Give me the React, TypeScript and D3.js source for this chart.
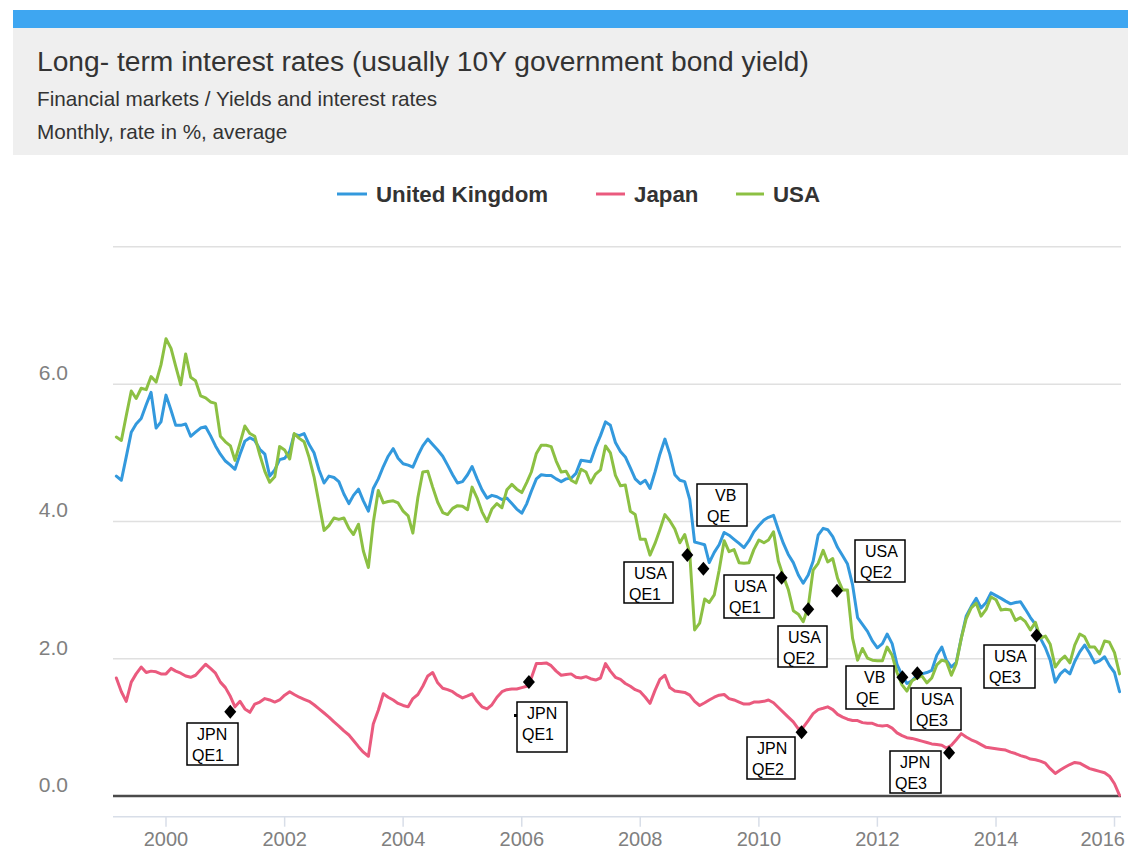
import React from "react";
import * as d3 from "d3";

// ---------- DATA ----------
// Monthly averages, first value = March 1999, last = February 2016
const FIRST_YEAR = 1999;
const FIRST_MONTH = 3;

const ukRates = [
  4.66, 4.60, 4.94, 5.30, 5.42, 5.50, 5.70, 5.88, 5.36, 5.45,
  5.84, 5.62, 5.40, 5.40, 5.42, 5.24, 5.30, 5.36, 5.38, 5.25, 5.10, 4.98,
  4.88, 4.82, 4.76, 4.98, 5.17, 5.22, 5.18, 5.05, 4.98, 4.66, 4.75, 4.90,
  4.92, 5.02, 5.27, 5.25, 5.28, 5.12, 5.00, 4.75, 4.56, 4.66, 4.64, 4.58,
  4.40, 4.26, 4.38, 4.47, 4.30, 4.15, 4.48, 4.62, 4.80, 4.95, 5.06, 4.92,
  4.84, 4.82, 4.79, 4.96, 5.10, 5.20, 5.12, 5.04, 4.95, 4.82, 4.68, 4.56,
  4.58, 4.68, 4.80, 4.62, 4.46, 4.34, 4.38, 4.36, 4.32, 4.34, 4.26, 4.18,
  4.12, 4.26, 4.44, 4.62, 4.68, 4.67, 4.67, 4.62, 4.58, 4.62, 4.63, 4.70,
  4.89, 4.88, 4.87, 5.08, 5.25, 5.45, 5.40, 5.15, 5.02, 4.94, 4.78, 4.62,
  4.55, 4.60, 4.48, 4.72, 4.98, 5.20, 4.98, 4.68, 4.60, 4.58, 4.32, 3.70,
  3.68, 3.66, 3.40, 3.55, 3.66, 3.84, 3.80, 3.74, 3.68, 3.62, 3.72, 3.85,
  3.94, 4.02, 4.06, 4.09, 3.88, 3.68, 3.52, 3.40, 3.22, 3.10, 3.22, 3.42,
  3.80, 3.90, 3.88, 3.78, 3.62, 3.50, 3.38, 3.08, 2.60, 2.50, 2.40, 2.26,
  2.16, 2.22, 2.36, 2.22, 1.92, 1.76, 1.64, 1.68, 1.76, 1.78, 1.80, 1.83,
  2.05, 2.17, 1.98, 1.88, 1.95, 2.30, 2.62, 2.76, 2.88, 2.74, 2.82, 2.96,
  2.92, 2.88, 2.84, 2.80, 2.82, 2.83, 2.72, 2.60, 2.50, 2.30, 2.16, 1.98,
  1.66, 1.78, 1.84, 1.78, 1.96, 2.10, 2.20, 2.08, 1.94, 1.97, 2.03, 1.90,
  1.80, 1.52,
];

const japanRates = [
  1.72, 1.52, 1.38, 1.66, 1.78, 1.88, 1.80, 1.82, 1.81, 1.78,
  1.78, 1.86, 1.82, 1.79, 1.75, 1.73, 1.76, 1.84, 1.92, 1.86, 1.79, 1.66,
  1.58, 1.45, 1.30, 1.38, 1.27, 1.22, 1.34, 1.37, 1.42, 1.40, 1.37, 1.40,
  1.47, 1.52, 1.48, 1.44, 1.41, 1.38, 1.33, 1.27, 1.21, 1.15, 1.08, 1.02,
  0.95, 0.89, 0.81, 0.72, 0.64, 0.58, 1.05, 1.25, 1.49, 1.44, 1.40, 1.35,
  1.32, 1.30, 1.42, 1.48, 1.60, 1.75, 1.80, 1.65, 1.57, 1.55, 1.52, 1.47,
  1.43, 1.46, 1.49, 1.38, 1.30, 1.27, 1.33, 1.44, 1.52, 1.55, 1.56, 1.56,
  1.58, 1.60, 1.72, 1.93, 1.93, 1.94, 1.90, 1.82, 1.76, 1.77, 1.78, 1.73,
  1.72, 1.74, 1.71, 1.69, 1.72, 1.93, 1.82, 1.73, 1.70, 1.64, 1.60, 1.55,
  1.52, 1.44, 1.35, 1.54, 1.70, 1.76, 1.58, 1.53, 1.52, 1.51, 1.47, 1.38,
  1.32, 1.36, 1.40, 1.44, 1.47, 1.48, 1.42, 1.40, 1.37, 1.34, 1.34, 1.37,
  1.37, 1.38, 1.40, 1.36, 1.29, 1.22, 1.15, 1.08, 0.98, 1.00, 1.10, 1.20,
  1.26, 1.28, 1.30, 1.26, 1.19, 1.15, 1.12, 1.10, 1.10, 1.07, 1.06, 1.06,
  1.03, 1.02, 1.03, 0.99, 0.92, 0.88, 0.85, 0.84, 0.82, 0.80, 0.78, 0.76,
  0.75, 0.74, 0.70, 0.74, 0.82, 0.91, 0.86, 0.82, 0.79, 0.75, 0.71, 0.70,
  0.69, 0.68, 0.67, 0.64, 0.62, 0.59, 0.57, 0.54, 0.53, 0.51, 0.48, 0.40,
  0.33, 0.38, 0.42, 0.46, 0.49, 0.48, 0.44, 0.40, 0.38, 0.36, 0.34, 0.29,
  0.18, 0.01,
];

const usaRates = [
  5.23, 5.18, 5.54, 5.90, 5.79, 5.94, 5.92, 6.11, 6.03, 6.28,
  6.66, 6.52, 6.26, 5.99, 6.44, 6.10, 6.05, 5.83, 5.80, 5.74, 5.72, 5.24,
  5.16, 5.10, 4.89, 5.14, 5.39, 5.28, 5.24, 4.97, 4.73, 4.57, 4.65, 5.09,
  5.04, 4.91, 5.28, 5.21, 5.16, 4.93, 4.65, 4.26, 3.87, 3.94, 4.05, 4.03,
  4.05, 3.90, 3.81, 3.96, 3.57, 3.33, 3.98, 4.45, 4.27, 4.29, 4.30, 4.27,
  4.15, 4.08, 3.83, 4.35, 4.72, 4.73, 4.50, 4.28, 4.13, 4.10, 4.19, 4.23,
  4.22, 4.17, 4.50, 4.34, 4.14, 4.00, 4.18, 4.26, 4.20, 4.46, 4.54, 4.47,
  4.42, 4.57, 4.72, 4.99, 5.11, 5.11, 5.09, 4.88, 4.72, 4.73, 4.60, 4.56,
  4.76, 4.72, 4.56, 4.69, 4.75, 5.10, 5.00, 4.67, 4.52, 4.53, 4.15, 4.10,
  3.74, 3.74, 3.51, 3.68, 3.88, 4.10, 4.01, 3.89, 3.69, 3.81, 3.53, 2.42,
  2.52, 2.87, 2.82, 2.93, 3.29, 3.72, 3.56, 3.59, 3.40, 3.39, 3.40, 3.59,
  3.73, 3.69, 3.73, 3.85, 3.42, 3.20, 3.01, 2.70, 2.65, 2.54, 2.76, 3.29,
  3.39, 3.58, 3.41, 3.46, 3.17, 3.00, 3.00, 2.30, 1.98, 2.15, 2.01, 1.98,
  1.97, 1.97, 2.17, 2.05, 1.80, 1.62, 1.53, 1.68, 1.72, 1.75, 1.65, 1.72,
  1.91, 1.98, 1.96, 1.76, 1.93, 2.30, 2.58, 2.74, 2.81, 2.62, 2.72, 2.90,
  2.86, 2.71, 2.72, 2.71, 2.56, 2.60, 2.54, 2.42, 2.53, 2.30, 2.33, 2.21,
  1.88, 1.98, 2.04, 1.94, 2.20, 2.36, 2.32, 2.17, 2.17, 2.07, 2.26, 2.24,
  2.09, 1.78,
];

const seriesNames = ["United Kingdom", "Japan", "USA"];
const yGridTicks = [0, 2, 4, 6, 8];
const yLabelTicks = [0, 2, 4, 6];
const xTickYears = [2000, 2002, 2004, 2006, 2008, 2010, 2012, 2014, 2016];

const titleText = "Long- term interest rates (usually 10Y government bond yield)";
const subtitleText = "Financial markets / Yields and interest rates";
const unitText = "Monthly, rate in %, average";

// QE annotations: label lines, marker date, marker value
const qeLabels = [
  ["JPN", "QE1"], ["JPN", "QE1"], ["USA", "QE1"], ["VB", "QE"],
  ["USA", "QE1"], ["USA", "QE2"], ["USA", "QE2"], ["JPN", "QE2"],
  ["VB", "QE"], ["USA", "QE3"], ["JPN", "QE3"], ["USA", "QE3"],
];
const qeDates = [
  "2001-01-31", "2006-02-14", "2008-10-17", "2009-01-24",
  "2010-05-21", "2010-11-01", "2011-04-27", "2010-09-21",
  "2012-06-03", "2012-09-03", "2013-03-18", "2014-09-08",
];
const qeValues = [1.23, 1.66, 3.51, 3.31, 3.18, 2.72, 2.99, 0.93, 1.73, 1.79, 0.63, 2.34];

// ---------- LAYOUT (pixels) ----------
const W = 1128;
const H = 852;
const PLOT_LEFT = 113;
const PLOT_RIGHT = 1121;
const qeBoxes = [
  [187, 723, 51, 42], [517, 702, 50, 50], [624, 562, 49, 41], [697, 484, 50, 42],
  [724, 575, 50, 43], [778, 626, 49, 41], [855, 540, 50, 42], [747, 737, 48, 42],
  [846, 666, 48, 43], [911, 688, 50, 42], [890, 751, 51, 42], [984, 645, 51, 43],
];
const seriesColors = ["#3399dd", "#ea5a7e", "#8cc043"];
const legendPos = [
  { x: 337, w: 30 },
  { x: 596, w: 29 },
  { x: 736, w: 28 },
];

const FONT = "'Liberation Sans', Arial, Helvetica, sans-serif";

function monthDate(i: number): Date {
  return new Date(FIRST_YEAR, FIRST_MONTH - 1 + i, 1);
}
function parseDay(s: string): Date {
  const [y, m, d] = s.split("-").map(Number);
  return new Date(y, m - 1, d);
}

export default function App() {
  const x = d3
    .scaleTime()
    .domain([new Date(2000, 0, 1), new Date(2016, 0, 1)])
    .range([166, 1114.5]);
  const y = d3.scaleLinear().domain([-0.3, 8]).range([816.7, 246.8]);

  const line = d3
    .line<number>()
    .x((_, i) => x(monthDate(i)))
    .y((d) => y(d));

  const allSeries = [ukRates, japanRates, usaRates];
  const lastYear = xTickYears[xTickYears.length - 1];

  return (
    <svg
      width={W}
      height={H}
      style={{ position: "absolute", left: 0, top: 0, background: "#fff" }}
      fontFamily={FONT}
    >
      <rect x={0} y={0} width={W} height={H} fill="#fff" />
      {/* header */}
      <rect x={13} y={10} width={W - 13} height={18} fill="#3ea6f1" />
      <rect x={13} y={28} width={W - 13} height={127} fill="#efefef" />
      <text x={37} y={71} fontSize={28.2} fill="#333">
        {titleText}
      </text>
      <text x={37} y={106} fontSize={20.7} fill="#333">
        {subtitleText}
      </text>
      <text x={37} y={139} fontSize={20.7} fill="#333">
        {unitText}
      </text>

      {/* legend */}
      {seriesNames.map((name, i) => (
        <g key={name}>
          <line
            x1={legendPos[i].x}
            x2={legendPos[i].x + legendPos[i].w}
            y1={194}
            y2={194}
            stroke={seriesColors[i]}
            strokeWidth={3}
          />
          <text
            x={legendPos[i].x + legendPos[i].w + 9}
            y={202}
            fontSize={22.3}
            fontWeight="bold"
            fill="#333"
          >
            {name}
          </text>
        </g>
      ))}

      {/* grid */}
      {yGridTicks.map((t) => (
        <line
          key={"g" + t}
          x1={PLOT_LEFT}
          x2={PLOT_RIGHT}
          y1={y(t)}
          y2={y(t)}
          stroke="#e0e0e0"
          strokeWidth={1.5}
        />
      ))}
      {yLabelTicks.map((t) => (
        <text
          key={"yl" + t}
          x={68}
          y={y(t) - 4}
          textAnchor="end"
          fontSize={21}
          fill="#808080"
        >
          {d3.format(".1f")(t)}
        </text>
      ))}

      {/* x axis */}
      <line
        x1={PLOT_LEFT}
        x2={PLOT_RIGHT}
        y1={y(-0.3)}
        y2={y(-0.3)}
        stroke="#d8dee8"
        strokeWidth={1.5}
      />
      {xTickYears.map((yr) => {
        const xx = x(new Date(yr, 0, 1));
        const isLast = yr === lastYear;
        return (
          <g key={"xt" + yr}>
            <line x1={xx} x2={xx} y1={y(-0.3)} y2={y(-0.3) + 10} stroke="#d8dee8" strokeWidth={1.5} />
            <text
              x={isLast ? W - 3 : xx}
              y={846}
              textAnchor={isLast ? "end" : "middle"}
              fontSize={20}
              fill="#808080"
            >
              {yr}
            </text>
          </g>
        );
      })}

      {/* zero line */}
      <line
        x1={PLOT_LEFT}
        x2={PLOT_RIGHT}
        y1={y(0)}
        y2={y(0)}
        stroke="#4a4a4a"
        strokeWidth={2.5}
      />

      {/* series */}
      {allSeries.map((s, i) => (
        <path
          key={"s" + i}
          d={line(s) || ""}
          fill="none"
          stroke={seriesColors[i]}
          strokeWidth={3}
          strokeLinejoin="round"
          strokeLinecap="round"
        />
      ))}

      {/* annotations */}
      {qeLabels.map((lab, i) => {
        const [bx, by, bw, bh] = qeBoxes[i];
        const off1 = lab[0] === "VB" ? 18 : 10;
        const off2 = lab[1] === "QE" ? 10 : 5;
        return (
          <g key={"qe" + i}>
            <rect x={bx} y={by} width={bw} height={bh} fill="#fff" stroke="#000" strokeWidth={1.5} />
            <text x={bx + off1} y={by + 16.5} fontSize={16} fill="#000">
              {lab[0]}
            </text>
            <text x={bx + off2} y={by + 38} fontSize={16} fill="#000">
              {lab[1]}
            </text>
          </g>
        );
      })}
      <rect x={514} y={714} width={3} height={3} fill="#000" />
      {qeDates.map((dstr, i) => {
        const cx = x(parseDay(dstr));
        const cy = y(qeValues[i]);
        return (
          <path
            key={"d" + i}
            d={`M${cx},${cy - 7}L${cx + 6},${cy}L${cx},${cy + 7}L${cx - 6},${cy}Z`}
            fill="#000"
          />
        );
      })}
    </svg>
  );
}
